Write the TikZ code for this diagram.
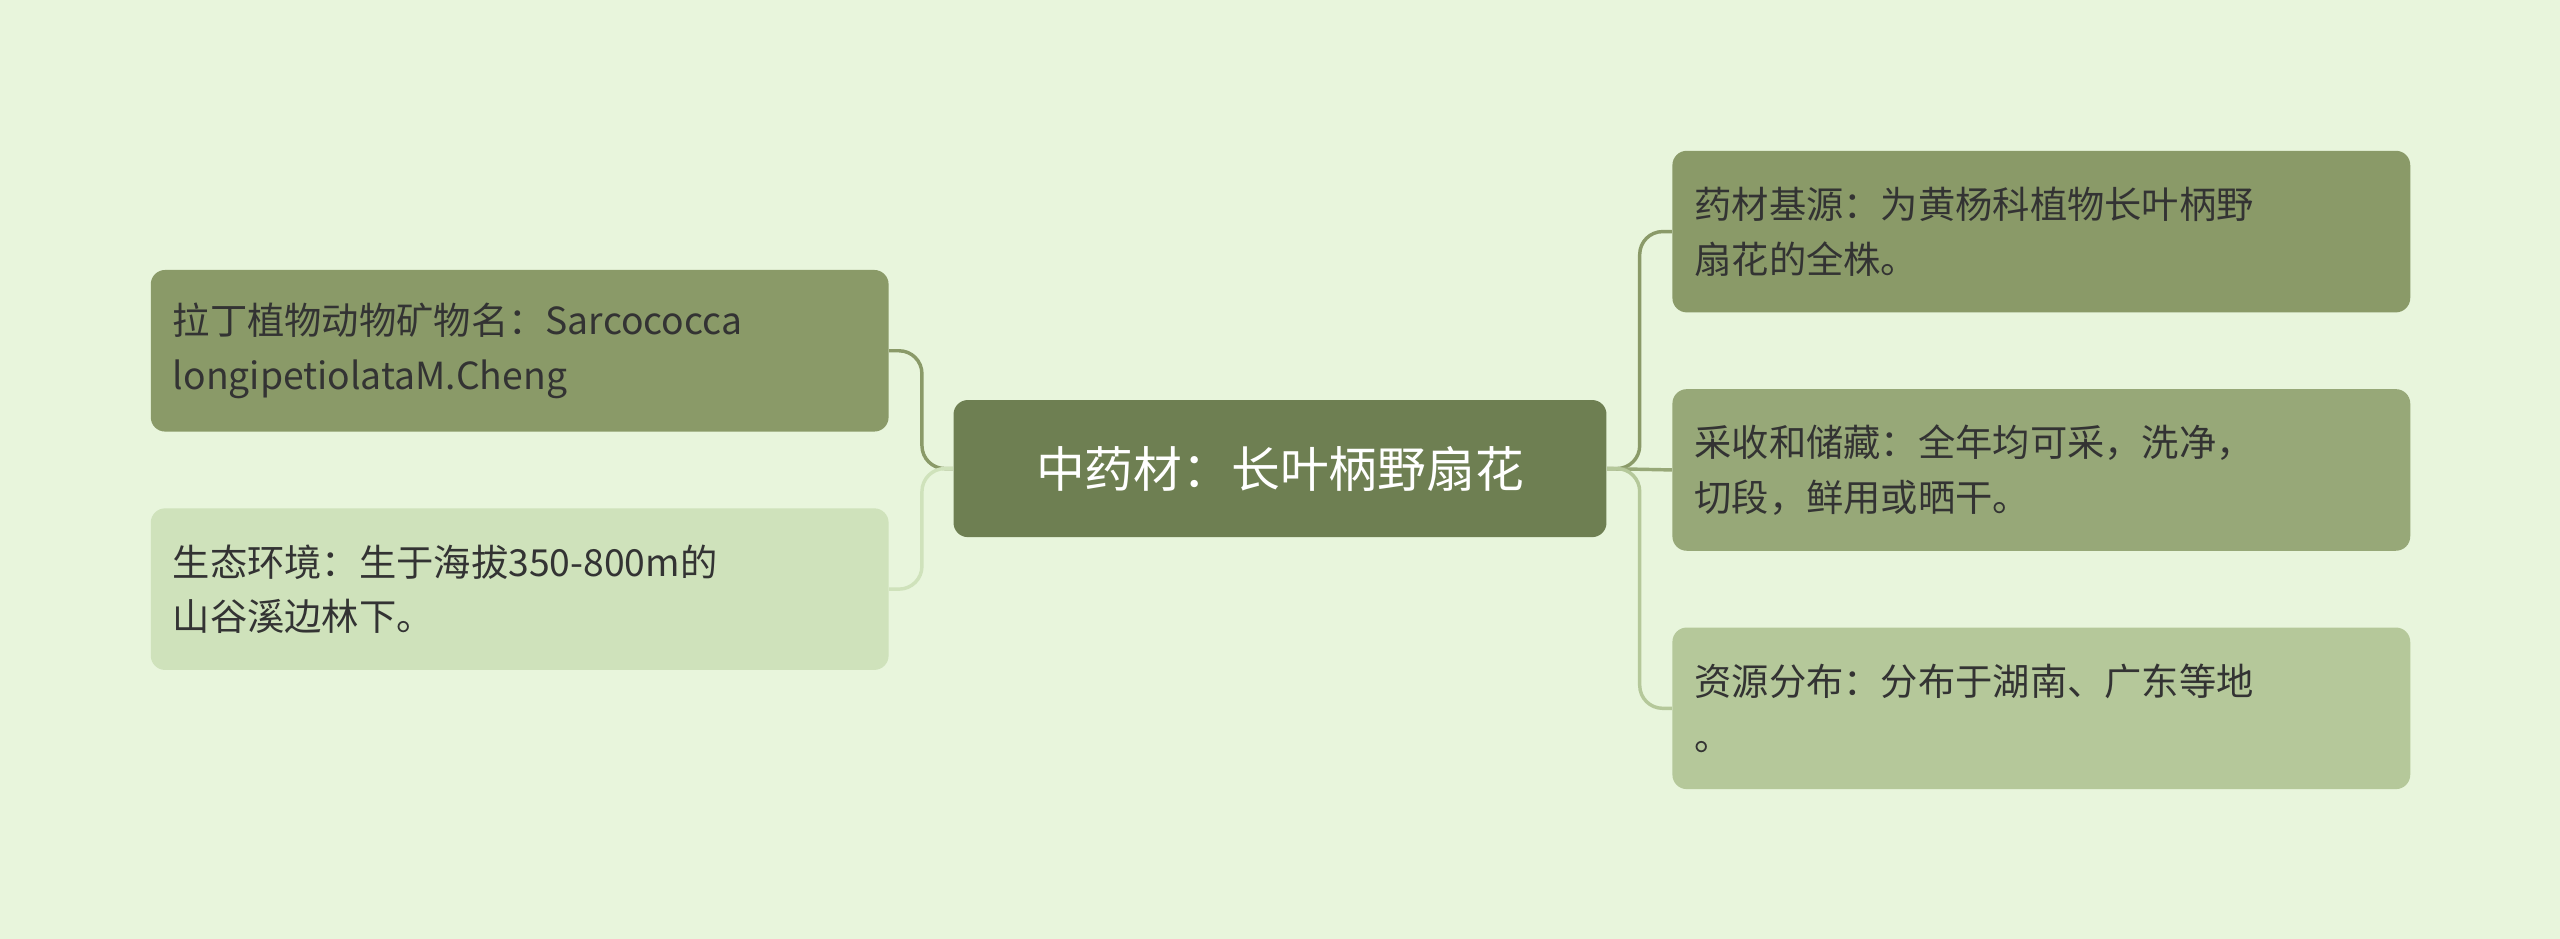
\documentclass[tikz,border=0pt]{standalone}
\usepackage{fontspec}
\setmainfont{Noto Sans CJK SC}
\begin{document}
\begin{tikzpicture}[x=0.02cm,y=-0.02cm]
\definecolor{bgc}{HTML}{E8F5DC}
\definecolor{ccen}{HTML}{6E7F52}
\definecolor{cdark}{HTML}{8A9A68}
\definecolor{clite}{HTML}{CFE2BB}
\definecolor{cmid}{HTML}{97A878}
\definecolor{cpale}{HTML}{B5C89A}
\definecolor{tx}{HTML}{333333}
\tikzset{leaf/.style={anchor=north west,rounded corners=5pt,minimum width=9.04cm,minimum height=1.98cm,text width=8.5cm,align=left,inner xsep=0.26cm,font=\fontsize{13pt}{19pt}\selectfont,text=tx},
 conn/.style={rounded corners=8pt,line width=1.2pt}}
\fill[bgc] (0,0) rectangle (1568,575);
\node[fill=ccen,rounded corners=5pt,minimum width=8cm,minimum height=1.68cm,text=white,font=\fontsize{17pt}{20pt}\selectfont] (c) at (784,287) {中药材：长叶柄野扇花};
\node[leaf,fill=cdark] (l1) at (92,165) {拉丁植物动物矿物名：Sarcococca\\longipetiolataM.Cheng};
\node[leaf,fill=clite] (l2) at (92,311) {生态环境：生于海拔350-800m的\\山谷溪边林下。};
\node[leaf,fill=cdark] (r1) at (1024,92) {药材基源：为黄杨科植物长叶柄野\\扇花的全株。};
\node[leaf,fill=cmid] (r2) at (1024,238) {采收和储藏：全年均可采，洗净，\\切段，鲜用或晒干。};
\node[leaf,fill=cpale] (r3) at (1024,384) {资源分布：分布于湖南、广东等地\\。};
\draw[conn,cdark] (c.west) -- ++(-19,0) |- (l1.east);
\draw[conn,clite] (c.west) -- ++(-19,0) |- (l2.east);
\draw[conn,cdark] (c.east) -- ++(20,0) |- (r1.west);
\draw[conn,cmid] (c.east) -- (r2.west);
\draw[conn,cpale] (c.east) -- ++(20,0) |- (r3.west);
\end{tikzpicture}
\end{document}
